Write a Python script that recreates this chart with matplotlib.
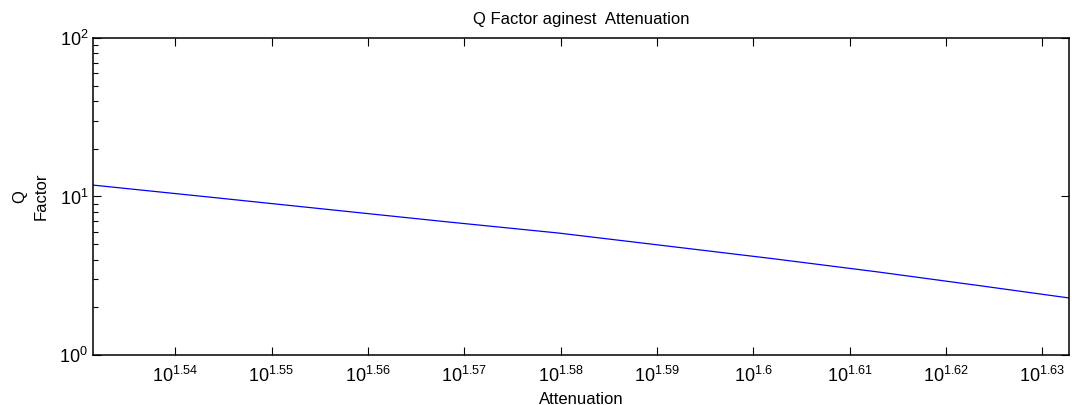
import numpy as np
import matplotlib.pyplot as plt
from matplotlib.ticker import FixedLocator, FuncFormatter, LogLocator, NullFormatter, NullLocator

plt.rcParams['font.family'] = 'Liberation Sans'
plt.rcParams['mathtext.fontset'] = 'custom'
plt.rcParams['mathtext.rm'] = 'Liberation Sans'
plt.rcParams['mathtext.it'] = 'Liberation Sans'

# attenuation (dB) and Q factor
atten = [34, 35, 36, 37, 38, 39, 40, 41, 42, 42.93]
qfactor = [11.8, 9.84, 8.23, 6.92, 5.88, 4.87, 4.05, 3.35, 2.75, 2.29]
xtick_exp = [1.54, 1.55, 1.56, 1.57, 1.58, 1.59, 1.60, 1.61, 1.62, 1.63]

fig = plt.figure(figsize=(10.72, 4.05), dpi=100)
ax = fig.add_axes([0.0868, 0.1235, 0.9104, 0.7827])
ax.loglog(atten, qfactor, color='#0000ff', linewidth=0.9)

ax.set_xlim(34, 42.93)
ax.set_ylim(1, 100)

ax.xaxis.set_major_locator(FixedLocator([10 ** e for e in xtick_exp]))
ax.xaxis.set_minor_locator(NullLocator())
ax.xaxis.set_major_formatter(FuncFormatter(
    lambda v, p: r'$\mathregular{10^{%g}}$' % round(np.log10(v), 2)))
ax.xaxis.set_minor_formatter(NullFormatter())

ax.yaxis.set_major_locator(FixedLocator([1, 10, 100]))
ax.yaxis.set_minor_locator(LogLocator(base=10, subs=np.arange(2, 10)))
ax.yaxis.set_major_formatter(FuncFormatter(
    lambda v, p: r'$\mathregular{10^{%d}}$' % round(np.log10(v))))
ax.yaxis.set_minor_formatter(NullFormatter())

ax.tick_params(which='both', direction='in', top=True, right=True, labelsize=13, width=0.8)
ax.tick_params(which='major', length=6)
ax.tick_params(which='minor', length=3.5, right=False)
ax.tick_params(axis='x', pad=8)

for s in ax.spines.values():
    s.set_linewidth(1.1)

ax.set_title('Q Factor aginest  Attenuation', fontsize=12, pad=10)
ax.set_xlabel('Attenuation', fontsize=12, labelpad=4)
ax.set_ylabel('Q\nFactor', fontsize=12, labelpad=8, multialignment='center', linespacing=1.5)

fig.savefig('out.png', dpi=100)
